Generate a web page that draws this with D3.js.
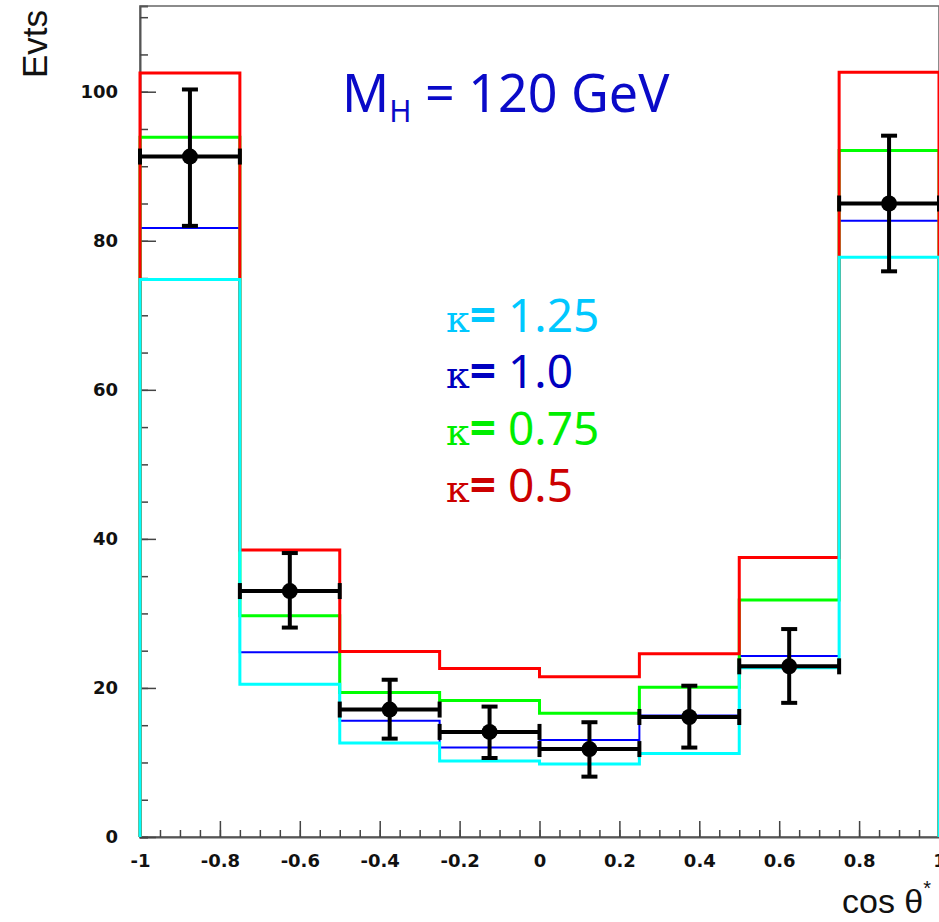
<!DOCTYPE html>
<html>
<head>
<meta charset="utf-8">
<script src="https://cdn.jsdelivr.net/npm/d3@7"></script>
<style>
  body { margin: 0; background: #fff; }
  svg { display: block; }
</style>
</head>
<body>
<div class="hist-viz"></div>
<script>
// bin edges along cos theta*
const binEdges = [-1, -0.75, -0.5, -0.25, 0, 0.25, 0.5, 0.75, 1];

// MC predictions for each kappa
const kappa050 = [102.5, 38.5, 24.9, 22.6, 21.5, 24.6, 37.5, 102.6];
const kappa075 = [93.9, 29.7, 19.4, 18.3, 16.6, 20.1, 31.8, 92.1];
const kappa100 = [81.7, 24.8, 15.6, 12.0, 13.0, 16.3, 24.3, 82.7];
const kappa125 = [74.8, 20.5, 12.6, 10.2, 9.8, 11.2, 22.7, 77.8];

// pseudo data with errors
const dataValues = [91.3, 33.0, 17.1, 14.1, 11.8, 16.1, 22.9, 85.0];
const dataErrUp = [9.0, 5.1, 4.0, 3.4, 3.6, 4.2, 5.0, 9.1];
const dataErrDown = [9.3, 4.9, 3.9, 3.5, 3.7, 4.1, 4.9, 9.1];

const xTicks = [-1, -0.8, -0.6, -0.4, -0.2, 0, 0.2, 0.4, 0.6, 0.8, 1];
const yTicks = [0, 20, 40, 60, 80, 100];

const legendLabels = ["1.25", "1.0", "0.75", "0.5"];

const width = 939;
const height = 922;
const frame = {left: 140, right: 939, top: 6, bottom: 837};

const svg = d3.select(".hist-viz")
    .append("svg")
    .attr("width", width)
    .attr("height", height);

const x = d3.scaleLinear()
    .domain([-1, 1])
    .range([frame.left, frame.right]);

const y = d3.scaleLinear()
    .domain([0, 111.5])
    .range([frame.bottom, frame.top]);

// frame
svg.append("rect")
    .attr("x", frame.left)
    .attr("y", frame.top)
    .attr("width", frame.right - frame.left)
    .attr("height", frame.bottom - frame.top)
    .attr("fill", "none")
    .attr("stroke", "#666")
    .attr("stroke-width", 1.5);

const fmt = d => d === 0 ? "0" : String(+d.toFixed(1));

// x axis, ticks pointing inside
const xMinor = d3.range(-1, 1.0001, 0.05).map(d => +d.toFixed(2));
svg.append("g")
    .attr("transform", "translate(0," + frame.bottom + ")")
    .call(d3.axisBottom(x).tickValues(xMinor).tickSize(-7).tickFormat(""))
    .call(g => g.select(".domain").attr("stroke", "#555").attr("stroke-width", 2));

svg.append("g")
    .attr("transform", "translate(0," + frame.bottom + ")")
    .call(d3.axisBottom(x).tickValues(xTicks).tickSize(-16).tickPadding(17).tickFormat(fmt))
    .call(g => g.select(".domain").remove())
    .call(g => g.selectAll("text")
        .attr("font-family", "DejaVu Sans")
        .attr("font-weight", "bold")
        .attr("font-size", 18)
        .attr("fill", "#111"));

// y axis
const yMinor = d3.range(0, 111, 5);
svg.append("g")
    .attr("transform", "translate(" + frame.left + ",0)")
    .call(d3.axisLeft(y).tickValues(yMinor).tickSize(-8).tickFormat(""))
    .call(g => g.select(".domain").attr("stroke", "#555").attr("stroke-width", 2));

svg.append("g")
    .attr("transform", "translate(" + frame.left + ",0)")
    .call(d3.axisLeft(y).tickValues(yTicks).tickSize(-16).tickPadding(22).tickFormat(d3.format("d")))
    .call(g => g.select(".domain").remove())
    .call(g => g.selectAll("text")
        .attr("font-family", "DejaVu Sans")
        .attr("font-weight", "bold")
        .attr("font-size", 18)
        .attr("fill", "#111"));

svg.selectAll(".tick line").attr("stroke", "#444").attr("stroke-width", 1.5);

// histograms (drawn like ROOT outlines, from the baseline)
function stepPoints(values) {
    const pts = [[binEdges[0], 0]];
    values.forEach((v, i) => {
        pts.push([binEdges[i], v]);
        pts.push([binEdges[i + 1], v]);
    });
    pts.push([binEdges[binEdges.length - 1], 0]);
    return pts;
}

const line = d3.line()
    .x(d => x(d[0]))
    .y(d => y(d[1]));

const histos = [
    {values: kappa100, color: "#0000ff", width: 2},
    {values: kappa075, color: "#00ff00", width: 3},
    {values: kappa050, color: "#ff0000", width: 3},
    {values: kappa125, color: "#00ffff", width: 3}
];

svg.selectAll("path.hist")
    .data(histos)
    .enter()
    .append("path")
    .attr("class", "hist")
    .attr("d", d => line(stepPoints(d.values)))
    .attr("fill", "none")
    .attr("stroke", d => d.color)
    .attr("stroke-width", d => d.width);

// data points with error bars
const points = dataValues.map((v, i) => ({
    lo: binEdges[i],
    hi: binEdges[i + 1],
    mid: (binEdges[i] + binEdges[i + 1]) / 2,
    v: v,
    up: v + dataErrUp[i],
    down: v - dataErrDown[i]
}));

const pg = svg.append("g")
    .attr("stroke", "#000")
    .attr("stroke-width", 4);

pg.selectAll("line.hbar").data(points).enter().append("line")
    .attr("x1", d => x(d.lo)).attr("x2", d => x(d.hi))
    .attr("y1", d => y(d.v)).attr("y2", d => y(d.v));

pg.selectAll("line.hcap").data(points.flatMap(d => [[d.lo, d.v], [d.hi, d.v]])).enter().append("line")
    .attr("x1", d => x(d[0])).attr("x2", d => x(d[0]))
    .attr("y1", d => y(d[1]) - 8).attr("y2", d => y(d[1]) + 8);

pg.selectAll("line.vbar").data(points).enter().append("line")
    .attr("x1", d => x(d.mid)).attr("x2", d => x(d.mid))
    .attr("y1", d => y(d.up)).attr("y2", d => y(d.down));

pg.selectAll("line.vcap").data(points.flatMap(d => [[d.mid, d.up], [d.mid, d.down]])).enter().append("line")
    .attr("x1", d => x(d[0]) - 8).attr("x2", d => x(d[0]) + 8)
    .attr("y1", d => y(d[1])).attr("y2", d => y(d[1]));

svg.selectAll("circle.pt")
    .data(points)
    .enter()
    .append("circle")
    .attr("cx", d => x(d.mid))
    .attr("cy", d => y(d.v))
    .attr("r", 8)
    .attr("fill", "#000");

// axis titles
svg.append("text")
    .attr("transform", "translate(47,78) rotate(-90)")
    .attr("font-family", "Liberation Sans")
    .attr("font-size", 35)
    .attr("fill", "#111")
    .text("Evts");

const xt = svg.append("text")
    .attr("x", 842)
    .attr("y", 913)
    .attr("font-family", "Liberation Sans")
    .attr("font-size", 34)
    .attr("fill", "#111");
xt.append("tspan").text("cos θ");
xt.append("tspan").attr("font-size", 20).attr("dy", -18).text("*");

// title
const title = svg.append("text")
    .attr("x", 342)
    .attr("y", 112)
    .attr("font-family", "Noto Sans")
    .attr("font-size", 52)
    .attr("fill", "#0a0ac8");
title.append("tspan").text("M");
title.append("tspan").attr("font-size", 30).attr("dy", 10).text("H");
title.append("tspan").attr("dy", -10).text(" = 120 GeV");

// legend
const legendColors = ["#00c8ff", "#0000c0", "#00ee00", "#cc0000"];
const legendY = [332, 388, 445, 502];

legendLabels.forEach((lab, i) => {
    const t = svg.append("text")
        .attr("x", 446)
        .attr("y", legendY[i])
        .attr("font-family", "Noto Sans")
        .attr("font-size", 46)
        .attr("fill", legendColors[i]);
    t.append("tspan").attr("font-family", "DejaVu Serif").attr("font-size", 38).text("κ");
    t.append("tspan").attr("font-weight", "bold").text("=");
    t.append("tspan").text(" " + lab);
});
</script>
</body>
</html>
